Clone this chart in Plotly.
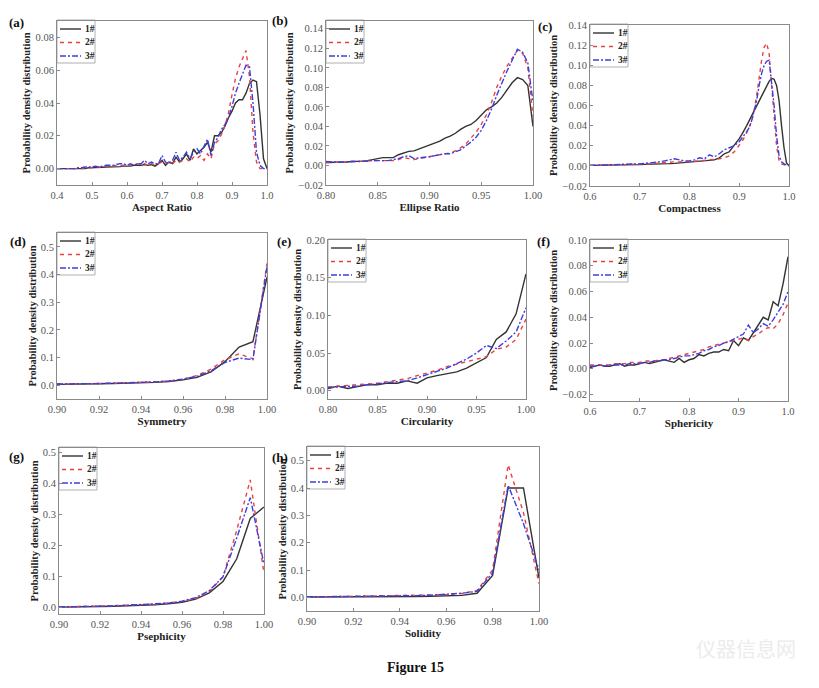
import numpy as np
import plotly.graph_objects as go

def grid(a, b, n):
    return [round(v, 4) for v in np.linspace(a, b, n)]

# ---------------- (a) Aspect Ratio ----------------
a_x = grid(0.40, 1.00, 61)
a_1 = [0,0,0,0,0,0,0,0,0,0.0005,
       0.0005,0.0005,0.0005,0.0008,0.001,0.001,0.001,0.0012,0.0012,0.0015,
       0.0015,0.0015,0.002,0.002,0.002,0.0025,0.002,0.0025,0.0015,0.003,
       0.005,0.002,0.004,0.003,0.007,0.004,0.006,0.009,0.005,0.012,
       0.009,0.011,0.013,0.016,0.010,0.020,0.020,0.022,0.026,0.031,
       0.035,0.040,0.042,0.042,0.046,0.052,0.054,0.053,0.033,0.006,0.0]
a_2 = [0,0,0,0,0,0,0,0,0.0005,0.0005,
       0.0005,0.001,0.001,0.001,0.0015,0.001,0.0015,0.002,0.0015,0.002,
       0.002,0.0025,0.002,0.003,0.0025,0.003,0.002,0.003,0.002,0.003,
       0.004,0.003,0.004,0.003,0.005,0.004,0.005,0.006,0.004,0.007,
       0.006,0.008,0.005,0.009,0.006,0.015,0.017,0.021,0.026,0.034,
       0.045,0.055,0.062,0.067,0.072,0.056,0.022,0.004,0.0,0.0,0.0]
a_3 = [0,0,0,0,0,0,0.0005,0.0005,0.001,0.001,
       0.001,0.0015,0.001,0.0015,0.002,0.002,0.002,0.0025,0.003,0.003,
       0.002,0.003,0.002,0.003,0.003,0.005,0.003,0.004,0.003,0.003,
       0.008,0.004,0.003,0.005,0.010,0.005,0.007,0.010,0.006,0.010,
       0.012,0.009,0.014,0.018,0.008,0.016,0.019,0.024,0.027,0.031,
       0.038,0.046,0.052,0.058,0.063,0.062,0.040,0.010,0.002,0.0,0.0]

# ---------------- (b) Ellipse Ratio ----------------
b_x = grid(0.80, 1.00, 41)
b_1 = [.003,.003,.003,.003,.0035,.004,.004,.0045,.005,.006,.0075,.008,.008,.008,
       .011,.013,.0145,.015,.017,.019,.021,.023,.025,.028,.030,.033,.037,.040,.042,
       .046,.052,.057,.060,.064,.070,.077,.085,.090,.088,.082,.040]
b_2 = [.003,.003,.003,.003,.0035,.004,.004,.004,.0045,.005,.005,.005,.005,.005,
       .006,.008,.007,.006,.007,.008,.009,.010,.011,.012,.013,.015,.018,.022,.028,
       .034,.042,.052,.065,.080,.092,.102,.110,.118,.115,.100,.050]
b_3 = [.004,.0035,.0035,.0035,.004,.004,.004,.004,.0045,.005,.005,.005,.005,.006,
       .007,.009,.010,.007,.008,.0085,.009,.010,.011,.012,.012,.014,.016,.020,.024,
       .029,.036,.046,.058,.072,.085,.097,.108,.119,.116,.105,.065]

# ---------------- (c) Compactness ----------------
c_x = grid(0.60, 0.90, 31) + grid(0.905, 1.00, 20)
c_1 = [.0005,.0005,.0005,.0005,.0008,.0008,.001,.001,.001,.0012,
       .0012,.0015,.0015,.0018,.002,.002,.0022,.0025,.003,.0035,
       .004,.0042,.0045,.005,.0055,.006,.008,.012,.014,.020,.027,
       .031,.035,.040,.045,.050,.055,.060,.065,.070,.075,.080,.084,.087,.086,.080,.065,.040,.018,.003,.0]
c_2 = [.0005,.0005,.0005,.0008,.001,.001,.001,.0012,.0015,.0015,
       .0018,.002,.002,.0025,.003,.003,.0035,.004,.004,.0045,
       .004,.0045,.005,.0055,.006,.006,.007,.008,.010,.014,.020,
       .024,.028,.033,.038,.045,.055,.070,.088,.105,.118,.122,.112,.085,.050,.020,.005,.002,.001,.0005,0]
c_3 = [.0005,.0005,.0008,.001,.001,.0012,.0015,.0015,.002,.002,
       .002,.0025,.003,.003,.004,.005,.006,.007,.006,.005,
       .005,.006,.008,.007,.011,.009,.012,.016,.018,.020,.024,
       .027,.030,.034,.038,.045,.055,.065,.080,.092,.100,.104,.105,.085,.060,.030,.010,.004,.002,.001,0]

# ---------------- (d) Symmetry ----------------
d_x = grid(0.90, 1.00, 16)
d_1 = [.003,.003,.004,.005,.006,.007,.008,.010,.013,.019,.028,.048,.085,.138,.157,.39]
d_2 = [.004,.004,.005,.006,.007,.008,.010,.012,.015,.022,.035,.058,.092,.113,.095,.44]
d_3 = [.004,.004,.005,.006,.007,.008,.010,.012,.015,.022,.032,.052,.082,.098,.092,.43]

# ---------------- (e) Circularity ----------------
e_x = grid(0.80, 1.00, 21)
e_1 = [.003,.006,.003,.005,.008,.008,.010,.010,.013,.010,.017,.020,.022,.025,.030,.037,.044,.068,.078,.102,.155]
e_2 = [.005,.006,.007,.008,.009,.010,.012,.014,.016,.020,.023,.027,.032,.035,.038,.042,.045,.055,.058,.068,.095]
e_3 = [.004,.005,.006,.006,.008,.009,.011,.012,.013,.017,.021,.025,.030,.036,.042,.050,.060,.056,.066,.078,.110]

# ---------------- (f) Sphericity ----------------
f_x = grid(0.60, 1.00, 41)
f_1 = [.001,.002,.003,.002,.002,.003,.004,.002,.003,.003,
       .004,.005,.004,.005,.006,.007,.006,.005,.008,.005,
       .007,.008,.011,.010,.012,.013,.013,.015,.014,.022,
       .018,.024,.022,.028,.035,.040,.038,.052,.049,.066,.087]
f_2 = [.003,.003,.003,.003,.003,.004,.004,.004,.005,.005,
       .005,.006,.006,.006,.007,.007,.008,.009,.010,.011,
       .012,.013,.014,.015,.017,.018,.019,.020,.021,.022,
       .023,.024,.022,.025,.027,.030,.032,.031,.035,.042,.051]
f_3 = [.002,.002,.003,.002,.003,.003,.003,.003,.004,.004,
       .004,.005,.005,.006,.006,.007,.007,.008,.009,.010,
       .010,.011,.012,.014,.015,.017,.018,.020,.021,.023,
       .025,.027,.034,.028,.031,.035,.033,.038,.044,.050,.060]

# ---------------- (g) Psephicity ----------------
g_x = grid(0.90, 1.00, 16)
g_1 = [.002,.002,.003,.004,.005,.006,.008,.010,.013,.018,.028,.048,.085,.158,.288,.325]
g_2 = [.002,.003,.004,.005,.006,.008,.010,.012,.015,.020,.030,.052,.100,.250,.412,.110]
g_3 = [.003,.003,.004,.005,.006,.008,.010,.012,.015,.021,.033,.055,.100,.225,.355,.140]

# ---------------- (h) Solidity ----------------
h_x = grid(0.90, 1.00, 16)
h_1 = [.001,.001,.002,.002,.002,.003,.003,.003,.004,.005,.007,.015,.080,.400,.400,.070]
h_2 = [.001,.002,.002,.003,.003,.004,.005,.006,.007,.010,.014,.025,.100,.485,.310,.050]
h_3 = [.002,.002,.003,.003,.004,.005,.005,.006,.008,.011,.015,.022,.090,.410,.270,.100]

series_names = ["1#", "2#", "3#"]
panel_labels = ["(a)", "(b)", "(c)", "(d)", "(e)", "(f)", "(g)", "(h)"]
x_titles = ["Aspect Ratio", "Ellipse Ratio", "Compactness", "Symmetry",
            "Circularity", "Sphericity", "Psephicity", "Solidity"]
y_title = "Probability density distribution"

panels = [
    (a_x, [a_1, a_2, a_3]), (b_x, [b_1, b_2, b_3]), (c_x, [c_1, c_2, c_3]),
    (d_x, [d_1, d_2, d_3]), (e_x, [e_1, e_2, e_3]), (f_x, [f_1, f_2, f_3]),
    (g_x, [g_1, g_2, g_3]), (h_x, [h_1, h_2, h_3]),
]

# Page geometry: the browser page adds an 8px body margin, so the figure is
# 803x672 and reference pixel positions are shifted by OFF.
OFF = 8
W, H = 803, 672

def px(x):
    return (x - OFF) / W

def py(y):
    return 1 - (y - OFF) / H

# panel boxes in reference pixels: left, right, top, bottom
boxes = [(57, 267, 21, 185), (326, 533, 21, 185), (590, 789, 25, 186),
         (57, 267, 233, 399), (328, 526, 240, 399), (590, 788, 240, 401),
         (59, 264, 448, 614), (307, 539, 447, 611)]
label_pos = [(16, 22), (280, 20), (545, 26), (18, 241), (284, 241), (543, 241), (16, 456), (280, 457)]

x_ranges = [[0.4, 1.0], [0.8, 1.0], [0.6, 1.0], [0.9, 1.0], [0.8, 1.0], [0.6, 1.0], [0.9, 1.0], [0.9, 1.0]]
x_dticks = [0.1, 0.05, 0.1, 0.02, 0.05, 0.1, 0.02, 0.02]
x_fmts = [".1f", ".2f", ".1f", ".2f", ".2f", ".1f", ".2f", ".2f"]
y_ranges = [[-0.01, 0.09], [-0.02, 0.148], [-0.02, 0.14], [-0.05, 0.55], [-0.011, 0.20],
            [-0.025, 0.10], [-0.02, 0.515], [-0.05, 0.55]]
y_dticks = [0.02, 0.02, 0.02, 0.1, 0.05, 0.02, 0.1, 0.1]
y_fmts = [".2f", ".2f", ".2f", ".1f", ".2f", ".2f", ".1f", ".1f"]

colors = ["#333333", "rgb(232,66,62)", "rgb(62,62,222)"]
dashes = ["solid", "4px,4px", "6px,2px,2px,2px"]

SERIF = "Liberation Serif, Times New Roman, serif"
fig = go.Figure()
layout = dict(
    width=W, height=H, margin=dict(l=0, r=0, t=0, b=0),
    paper_bgcolor="white", plot_bgcolor="white",
    font=dict(family=SERIF, size=10, color="#444"),
    showlegend=False,
    annotations=[], shapes=[],
)

for i, (xs, ys_list) in enumerate(panels):
    k = i + 1
    suffix = "" if k == 1 else str(k)
    for j, ys in enumerate(ys_list):
        fig.add_trace(go.Scatter(
            x=xs, y=ys, mode="lines", name=series_names[j],
            line=dict(color=colors[j], dash=dashes[j], width=1.4),
            xaxis="x" + suffix, yaxis="y" + suffix,
        ))
    l, r, t, b = boxes[i]
    xd = [px(l), px(r)]
    yd = [py(b), py(t)]
    common = dict(showline=True, mirror=True, linecolor="#8a8a8a", linewidth=1,
                  ticks="inside", ticklen=3, tickcolor="#8a8a8a",
                  showgrid=False, zeroline=False, automargin=False,
                  tickfont=dict(family=SERIF, size=10.5, color="#555"))
    layout["xaxis" + suffix] = dict(
        domain=xd, range=x_ranges[i], dtick=x_dticks[i], tick0=0, tickformat=x_fmts[i],
        anchor="y" + suffix,
        title=dict(text=x_titles[i], standoff=0,
                   font=dict(family=SERIF, size=11, color="#222", weight="bold")),
        **common)
    layout["yaxis" + suffix] = dict(
        domain=yd, range=y_ranges[i], dtick=y_dticks[i], tick0=0, tickformat=y_fmts[i],
        anchor="x" + suffix,
        title=dict(text=y_title, standoff=2,
                   font=dict(family=SERIF, size=10.5, color="#222", weight="bold")),
        **common)

    # legend box (top-left corner of each panel)
    layout["shapes"].append(dict(
        type="rect", xref="paper", yref="paper",
        x0=px(l), x1=px(l + 38), y0=py(t - 1), y1=py(t + 42),
        line=dict(color="#b0b0b0", width=1), fillcolor="white", layer="below"))
    for j in range(3):
        ly = t + 8 + 13.5 * j
        layout["shapes"].append(dict(
            type="line", xref="paper", yref="paper",
            x0=px(l + 3), x1=px(l + 24), y0=py(ly), y1=py(ly),
            line=dict(color=colors[j], dash=dashes[j], width=1.4)))
        layout["annotations"].append(dict(
            text=series_names[j], x=px(l + 26), y=py(ly), xref="paper", yref="paper",
            showarrow=False, xanchor="left", yanchor="middle",
            font=dict(family=SERIF, size=9.5, color="#222", weight="bold")))

    lx, ly = label_pos[i]
    layout["annotations"].append(dict(
        text=panel_labels[i], x=px(lx), y=py(ly), xref="paper", yref="paper",
        showarrow=False, xanchor="center", yanchor="middle",
        font=dict(family=SERIF, size=13, color="#111", weight="bold")))

layout["annotations"].append(dict(
    text="Figure 15", x=px(415), y=py(667), xref="paper", yref="paper",
    showarrow=False, xanchor="center", yanchor="middle",
    font=dict(family=SERIF, size=14, color="#111", weight="bold")))
layout["annotations"].append(dict(
    text="仪器信息网", x=px(746), y=py(648), xref="paper", yref="paper",
    showarrow=False, xanchor="center", yanchor="middle",
    font=dict(family="Noto Sans CJK SC", size=20, color="#ececec")))

fig.update_layout(**layout)
fig.write_html("out.html")
